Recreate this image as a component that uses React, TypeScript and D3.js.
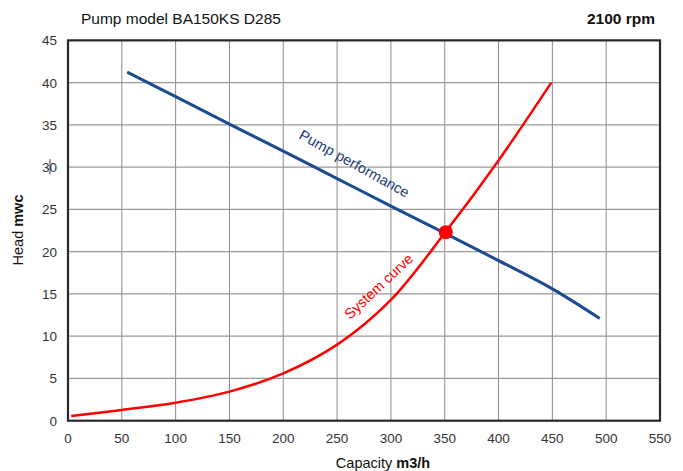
import React from "react";
import * as d3 from "d3";

const xTicks = [0, 50, 100, 150, 200, 250, 300, 350, 400, 450, 500, 550];
const yTicks = [0, 5, 10, 15, 20, 25, 30, 35, 40, 45];

const pumpQ = [55, 100, 150, 200, 250, 300, 350, 400, 450, 494];
const pumpH = [41.25, 38.35, 35.1, 31.9, 28.65, 25.4, 22.2, 18.95, 15.6, 12.1];

const sysQ = [3, 50, 100, 150, 200, 250, 300, 350, 400, 449];
const sysH = [0.55, 1.27, 2.13, 3.44, 5.6, 9.0, 14.3, 22.2, 30.8, 40.0];

const opPoint = [351, 22.3];

const W = 683;
const H = 471;
const M = { left: 68, right: 660, top: 40.4, bottom: 420.7 };

export default function App() {
  const x = d3.scaleLinear().domain([0, 550]).range([M.left, M.right]);
  const y = d3.scaleLinear().domain([0, 45]).range([M.bottom, M.top]);

  const line = d3
    .line<[number, number]>()
    .x((d) => x(d[0]))
    .y((d) => y(d[1]))
    .curve(d3.curveCatmullRom.alpha(0.5));

  const pumpPts = pumpQ.map((q, i) => [q, pumpH[i]] as [number, number]);
  const sysPts = sysQ.map((q, i) => [q, sysH[i]] as [number, number]);

  const font = "'Liberation Sans', Arial, sans-serif";

  return (
    <svg
      width={W}
      height={H}
      style={{ position: "absolute", left: 0, top: 0, background: "#fff" }}
      fontFamily={font}
    >
      {/* grid */}
      {xTicks.map((t) => (
        <line key={"gx" + t} x1={x(t)} x2={x(t)} y1={M.top} y2={M.bottom} stroke="#8a8a8a" strokeWidth={1} />
      ))}
      {yTicks.map((t) => (
        <line key={"gy" + t} x1={M.left} x2={M.right} y1={y(t)} y2={y(t)} stroke="#9a9a9a" strokeWidth={1.3} />
      ))}
      {/* border */}
      <rect
        x={M.left}
        y={M.top}
        width={M.right - M.left}
        height={M.bottom - M.top}
        fill="none"
        stroke="#2a2a2a"
        strokeWidth={2.2}
      />
      {/* tick labels */}
      {yTicks.map((t) => (
        <text key={"ty" + t} x={57} y={y(t)} dy="0.36em" textAnchor="end" fontSize={13.5} fill="#333">
          {t}
        </text>
      ))}
      {xTicks.map((t) => (
        <text key={"tx" + t} x={x(t)} y={443} textAnchor="middle" fontSize={13.5} fill="#333">
          {t}
        </text>
      ))}
      {/* cursor artifact */}
      <line x1={50} x2={50} y1={y(30) - 8} y2={y(30) + 7} stroke="#333" strokeWidth={1} />

      {/* curves */}
      <path d={line(pumpPts) || ""} fill="none" stroke="#1c4a93" strokeWidth={3} />
      <path d={line(sysPts) || ""} fill="none" stroke="#ff0000" strokeWidth={2.5} />
      <circle cx={x(opPoint[0])} cy={y(opPoint[1])} r={7} fill="#ff0000" />

      {/* curve labels */}
      <text
        transform={`translate(352,168) rotate(29)`}
        textAnchor="middle"
        fontSize={14.5}
        fill="#1c3a7a"
      >
        Pump performance
      </text>
      <text
        transform={`translate(382,290) rotate(-43)`}
        textAnchor="middle"
        fontSize={14.5}
        fill="#ff0000"
      >
        System curve
      </text>

      {/* titles */}
      <text x={81} y={24} fontSize={15.5} fill="#111">
        Pump model BA150KS D285
      </text>
      <text x={655} y={24} fontSize={15.5} fontWeight="bold" textAnchor="end" fill="#111">
        2100 rpm
      </text>
      <text x={383} y={468} textAnchor="middle" fontSize={14.5} fill="#111">
        Capacity <tspan fontWeight="bold">m3/h</tspan>
      </text>
      <text transform={`translate(23,230) rotate(-90)`} textAnchor="middle" fontSize={14.5} fill="#111">
        Head <tspan fontWeight="bold">mwc</tspan>
      </text>
    </svg>
  );
}
